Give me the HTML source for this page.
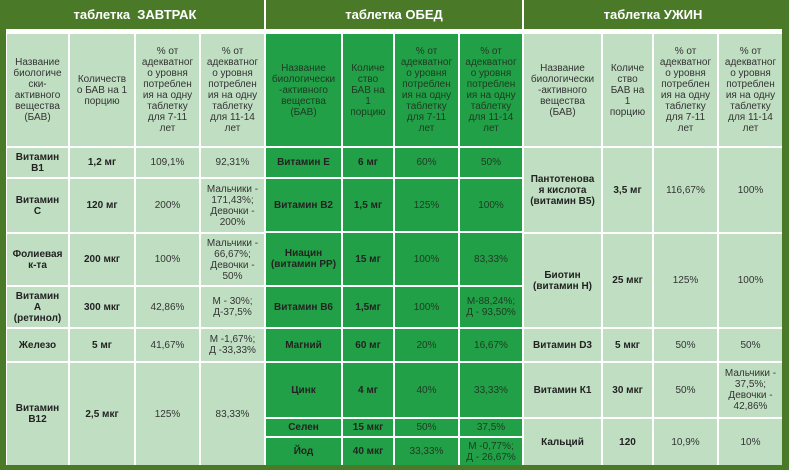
<!DOCTYPE html>
<html><head><meta charset="utf-8"><style>
body{margin:0;width:789px;height:470px;overflow:hidden;background:#4a7a27;font-family:"Liberation Sans",Arial,sans-serif;position:relative}
.h{position:absolute;top:0;height:29px;color:#fff;font-weight:bold;font-size:13px;display:flex;align-items:center;justify-content:center}
.w{position:absolute;background:#fff}
.c{position:absolute;display:flex;align-items:center;justify-content:center;text-align:center;font-size:10px;line-height:11px;color:#333;box-sizing:border-box;white-space:nowrap;overflow:hidden}
.l{background:#c0dfc2}.g{background:#22a047;color:#1e3a22}
.b{font-weight:bold;color:#222}
</style></head><body>
<div class="h" style="left:6px;width:258px">таблетка&nbsp; ЗАВТРАК</div>
<div class="h" style="left:266px;width:256px">таблетка ОБЕД</div>
<div class="h" style="left:524px;width:258px">таблетка УЖИН</div>
<div class="w" style="left:264px;top:0;width:2px;height:29px"></div>
<div class="w" style="left:522px;top:0;width:2px;height:29px"></div>
<div class="w" style="left:6px;top:29px;width:776px;height:436px"></div>

<!-- Breakfast -->
<div class="c l" style="left:7px;top:34px;width:61px;height:112px">Название<br>биологиче<br>ски-<br>активного<br>вещества<br>(БАВ)</div>
<div class="c l" style="left:70px;top:34px;width:64px;height:112px">Количеств<br>о БАВ на 1<br>порцию</div>
<div class="c l" style="left:136px;top:34px;width:63px;height:112px">% от<br>адекватног<br>о уровня<br>потреблен<br>ия на одну<br>таблетку<br>для 7-11<br>лет</div>
<div class="c l" style="left:201px;top:34px;width:63px;height:112px">% от<br>адекватног<br>о уровня<br>потреблен<br>ия на одну<br>таблетку<br>для 11-14<br>лет</div>

<div class="c l b" style="left:7px;top:148px;width:61px;height:29px">Витамин<br>В1</div>
<div class="c l b" style="left:70px;top:148px;width:64px;height:29px">1,2 мг</div>
<div class="c l" style="left:136px;top:148px;width:63px;height:29px">109,1%</div>
<div class="c l" style="left:201px;top:148px;width:63px;height:29px">92,31%</div>

<div class="c l b" style="left:7px;top:179px;width:61px;height:53px">Витамин<br>С</div>
<div class="c l b" style="left:70px;top:179px;width:64px;height:53px">120 мг</div>
<div class="c l" style="left:136px;top:179px;width:63px;height:53px">200%</div>
<div class="c l" style="left:201px;top:179px;width:63px;height:53px">Мальчики -<br>171,43%;<br>Девочки -<br>200%</div>

<div class="c l b" style="left:7px;top:234px;width:61px;height:51px">Фолиевая<br>к-та</div>
<div class="c l b" style="left:70px;top:234px;width:64px;height:51px">200 мкг</div>
<div class="c l" style="left:136px;top:234px;width:63px;height:51px">100%</div>
<div class="c l" style="left:201px;top:234px;width:63px;height:51px">Мальчики -<br>66,67%;<br>Девочки -<br>50%</div>

<div class="c l b" style="left:7px;top:287px;width:61px;height:40px">Витамин<br>А<br>(ретинол)</div>
<div class="c l b" style="left:70px;top:287px;width:64px;height:40px">300 мкг</div>
<div class="c l" style="left:136px;top:287px;width:63px;height:40px">42,86%</div>
<div class="c l" style="left:201px;top:287px;width:63px;height:40px">М - 30%;<br>Д-37,5%</div>

<div class="c l b" style="left:7px;top:329px;width:61px;height:32px">Железо</div>
<div class="c l b" style="left:70px;top:329px;width:64px;height:32px">5 мг</div>
<div class="c l" style="left:136px;top:329px;width:63px;height:32px">41,67%</div>
<div class="c l" style="left:201px;top:329px;width:63px;height:32px">М -1,67%;<br>Д -33,33%</div>

<div class="c l b" style="left:7px;top:363px;width:61px;height:102px">Витамин<br>В12</div>
<div class="c l b" style="left:70px;top:363px;width:64px;height:102px">2,5 мкг</div>
<div class="c l" style="left:136px;top:363px;width:63px;height:102px">125%</div>
<div class="c l" style="left:201px;top:363px;width:63px;height:102px">83,33%</div>

<!-- Lunch -->
<div class="c g" style="left:266px;top:34px;width:75px;height:112px">Название<br>биологически<br>-активного<br>вещества<br>(БАВ)</div>
<div class="c g" style="left:343px;top:34px;width:50px;height:112px">Количе<br>ство<br>БАВ на<br>1<br>порцию</div>
<div class="c g" style="left:395px;top:34px;width:63px;height:112px">% от<br>адекватног<br>о уровня<br>потреблен<br>ия на одну<br>таблетку<br>для 7-11<br>лет</div>
<div class="c g" style="left:460px;top:34px;width:62px;height:112px">% от<br>адекватног<br>о уровня<br>потреблен<br>ия на одну<br>таблетку<br>для 11-14<br>лет</div>

<div class="c g b" style="left:266px;top:148px;width:75px;height:29px">Витамин Е</div>
<div class="c g b" style="left:343px;top:148px;width:50px;height:29px">6 мг</div>
<div class="c g" style="left:395px;top:148px;width:63px;height:29px">60%</div>
<div class="c g" style="left:460px;top:148px;width:62px;height:29px">50%</div>

<div class="c g b" style="left:266px;top:179px;width:75px;height:52px">Витамин В2</div>
<div class="c g b" style="left:343px;top:179px;width:50px;height:52px">1,5 мг</div>
<div class="c g" style="left:395px;top:179px;width:63px;height:52px">125%</div>
<div class="c g" style="left:460px;top:179px;width:62px;height:52px">100%</div>

<div class="c g b" style="left:266px;top:233px;width:75px;height:52px">Ниацин<br>(витамин РР)</div>
<div class="c g b" style="left:343px;top:233px;width:50px;height:52px">15 мг</div>
<div class="c g" style="left:395px;top:233px;width:63px;height:52px">100%</div>
<div class="c g" style="left:460px;top:233px;width:62px;height:52px">83,33%</div>

<div class="c g b" style="left:266px;top:287px;width:75px;height:40px">Витамин В6</div>
<div class="c g b" style="left:343px;top:287px;width:50px;height:40px">1,5мг</div>
<div class="c g" style="left:395px;top:287px;width:63px;height:40px">100%</div>
<div class="c g" style="left:460px;top:287px;width:62px;height:40px">М-88,24%;<br>Д - 93,50%</div>

<div class="c g b" style="left:266px;top:329px;width:75px;height:32px">Магний</div>
<div class="c g b" style="left:343px;top:329px;width:50px;height:32px">60 мг</div>
<div class="c g" style="left:395px;top:329px;width:63px;height:32px">20%</div>
<div class="c g" style="left:460px;top:329px;width:62px;height:32px">16,67%</div>

<div class="c g b" style="left:266px;top:363px;width:75px;height:54px">Цинк</div>
<div class="c g b" style="left:343px;top:363px;width:50px;height:54px">4 мг</div>
<div class="c g" style="left:395px;top:363px;width:63px;height:54px">40%</div>
<div class="c g" style="left:460px;top:363px;width:62px;height:54px">33,33%</div>

<div class="c g b" style="left:266px;top:419px;width:75px;height:17px">Селен</div>
<div class="c g b" style="left:343px;top:419px;width:50px;height:17px">15 мкг</div>
<div class="c g" style="left:395px;top:419px;width:63px;height:17px">50%</div>
<div class="c g" style="left:460px;top:419px;width:62px;height:17px">37,5%</div>

<div class="c g b" style="left:266px;top:438px;width:75px;height:27px">Йод</div>
<div class="c g b" style="left:343px;top:438px;width:50px;height:27px">40 мкг</div>
<div class="c g" style="left:395px;top:438px;width:63px;height:27px">33,33%</div>
<div class="c g" style="left:460px;top:438px;width:62px;height:27px">М -0,77%;<br>Д - 26,67%</div>

<!-- Dinner -->
<div class="c l" style="left:524px;top:34px;width:77px;height:112px">Название<br>биологически<br>-активного<br>вещества<br>(БАВ)</div>
<div class="c l" style="left:603px;top:34px;width:49px;height:112px">Количе<br>ство<br>БАВ на<br>1<br>порцию</div>
<div class="c l" style="left:654px;top:34px;width:63px;height:112px">% от<br>адекватног<br>о уровня<br>потреблен<br>ия на одну<br>таблетку<br>для 7-11<br>лет</div>
<div class="c l" style="left:719px;top:34px;width:63px;height:112px">% от<br>адекватног<br>о уровня<br>потреблен<br>ия на одну<br>таблетку<br>для 11-14<br>лет</div>

<div class="c l b" style="left:524px;top:148px;width:77px;height:84px">Пантотенова<br>я кислота<br>(витамин В5)</div>
<div class="c l b" style="left:603px;top:148px;width:49px;height:84px">3,5 мг</div>
<div class="c l" style="left:654px;top:148px;width:63px;height:84px">116,67%</div>
<div class="c l" style="left:719px;top:148px;width:63px;height:84px">100%</div>

<div class="c l b" style="left:524px;top:234px;width:77px;height:93px">Биотин<br>(витамин Н)</div>
<div class="c l b" style="left:603px;top:234px;width:49px;height:93px">25 мкг</div>
<div class="c l" style="left:654px;top:234px;width:63px;height:93px">125%</div>
<div class="c l" style="left:719px;top:234px;width:63px;height:93px">100%</div>

<div class="c l b" style="left:524px;top:329px;width:77px;height:32px">Витамин D3</div>
<div class="c l b" style="left:603px;top:329px;width:49px;height:32px">5 мкг</div>
<div class="c l" style="left:654px;top:329px;width:63px;height:32px">50%</div>
<div class="c l" style="left:719px;top:329px;width:63px;height:32px">50%</div>

<div class="c l b" style="left:524px;top:363px;width:77px;height:54px">Витамин К1</div>
<div class="c l b" style="left:603px;top:363px;width:49px;height:54px">30 мкг</div>
<div class="c l" style="left:654px;top:363px;width:63px;height:54px">50%</div>
<div class="c l" style="left:719px;top:363px;width:63px;height:54px">Мальчики -<br>37,5%;<br>Девочки -<br>42,86%</div>

<div class="c l b" style="left:524px;top:419px;width:77px;height:46px">Кальций</div>
<div class="c l b" style="left:603px;top:419px;width:49px;height:46px">120</div>
<div class="c l" style="left:654px;top:419px;width:63px;height:46px">10,9%</div>
<div class="c l" style="left:719px;top:419px;width:63px;height:46px">10%</div>
</body></html>
